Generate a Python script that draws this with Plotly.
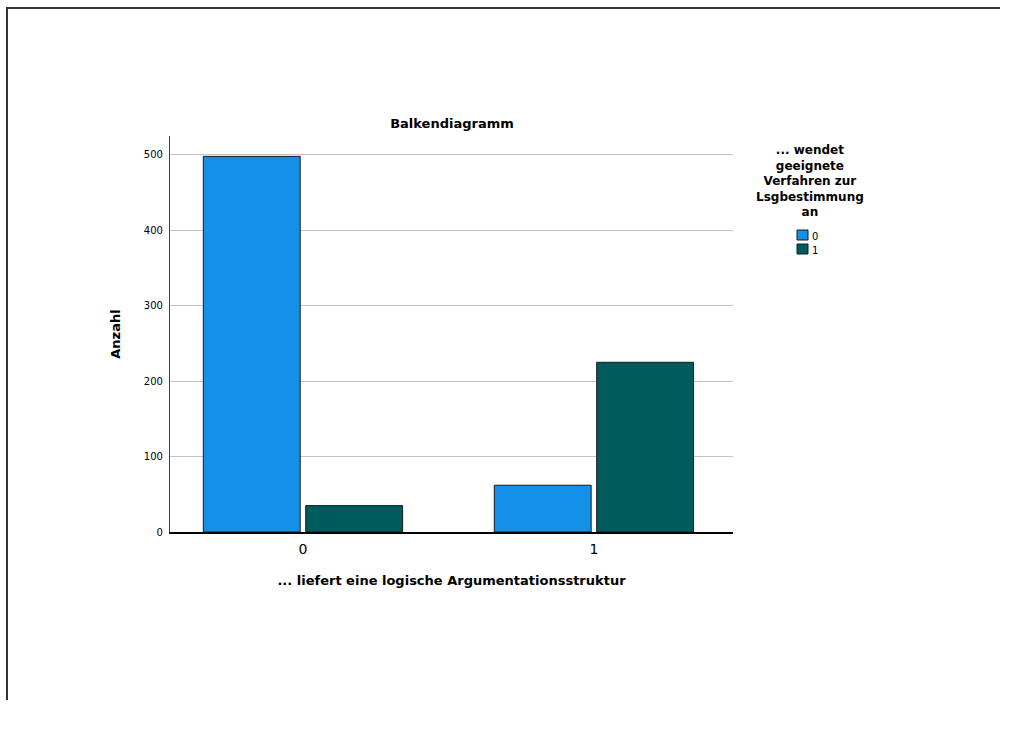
import plotly.graph_objects as go

# Counts per category of "... liefert eine logische Argumentationsstruktur",
# split by "... wendet geeignete Verfahren zur Lsgbestimmung an"
categories = ["0", "1"]
group_labels = ["0", "1"]
counts_0 = [498, 62]
counts_1 = [35, 225]
colors = ["#1490e8", "#005c5c"]

W, H = 1025, 749
L, R, T, B = 170, 733, 136, 532  # plot area in pixels
FONT = "DejaVu Sans"


def px_x(px):
    return (px - L) / (R - L)


def px_y(py):
    return (B - py) / (B - T)


fig = go.Figure()
for label, vals, col in zip(group_labels, [counts_0, counts_1], colors):
    fig.add_trace(go.Bar(
        x=categories, y=vals, name=label,
        marker=dict(color=col, line=dict(color="#1a1a1a", width=1)),
        showlegend=False,
    ))

fig.update_layout(
    width=W, height=H,
    margin=dict(l=L, r=W - R, t=T, b=H - B, pad=0),
    paper_bgcolor="white", plot_bgcolor="white",
    barmode="group", bargap=0.296, bargroupgap=0.054,
    font=dict(family=FONT, color="#000000"),
    title=dict(text="<b>Balkendiagramm</b>", x=px_x(452), xref="paper",
               xanchor="center", y=1 - 123 / H, yanchor="middle",
               font=dict(size=13, family=FONT, color="#000")),
)

fig.update_xaxes(
    type="category", range=[-0.457, 1.478],
    showline=True, linecolor="#000", linewidth=1.5,
    showgrid=False, ticks="", ticklabelstandoff=3,
    tickfont=dict(size=14, family=FONT, color="#000"),
    title=dict(text="<b>... liefert eine logische Argumentationsstruktur</b>",
               font=dict(size=13, family=FONT, color="#000"), standoff=20),
)
fig.update_yaxes(
    range=[0, 525], tickvals=[0, 100, 200, 300, 400, 500],
    showline=True, linecolor="#444", linewidth=1.2,
    showgrid=True, gridcolor="#c4c4c4", gridwidth=1,
    zeroline=False, ticks="", ticklabelstandoff=4,
    tickfont=dict(size=10, family=FONT, color="#000"),
    title=dict(text="<b>Anzahl</b>", font=dict(size=13, family=FONT, color="#000"),
               standoff=20),
)

# Outer frame of the chart page (top and left edges)
fig.add_shape(type="line", xref="paper", yref="paper",
              x0=px_x(6), x1=px_x(1000), y0=px_y(8), y1=px_y(8),
              line=dict(color="#333", width=2), layer="above")
fig.add_shape(type="line", xref="paper", yref="paper",
              x0=px_x(7), x1=px_x(7), y0=px_y(7), y1=px_y(700),
              line=dict(color="#333", width=2), layer="above")

# Legend: title and colour keys
fig.add_annotation(
    xref="paper", yref="paper", x=px_x(810), y=px_y(181),
    xanchor="center", yanchor="middle", align="center", showarrow=False,
    text="<b>... wendet<br>geeignete<br>Verfahren zur<br>Lsgbestimmung<br>an</b>",
    font=dict(size=12, family=FONT, color="#000"),
)
for i, (label, col) in enumerate(zip(group_labels, colors)):
    yc = 235 + 14 * i
    fig.add_shape(type="rect", xref="paper", yref="paper",
                  x0=px_x(797), x1=px_x(808), y0=px_y(yc + 5), y1=px_y(yc - 5),
                  fillcolor=col, line=dict(color="#1a1a1a", width=1))
    fig.add_annotation(xref="paper", yref="paper", x=px_x(810), y=px_y(yc + 1),
                       xanchor="left", yanchor="middle", showarrow=False,
                       text=label, font=dict(size=10, family=FONT, color="#000"))

fig.write_html("out.html")
